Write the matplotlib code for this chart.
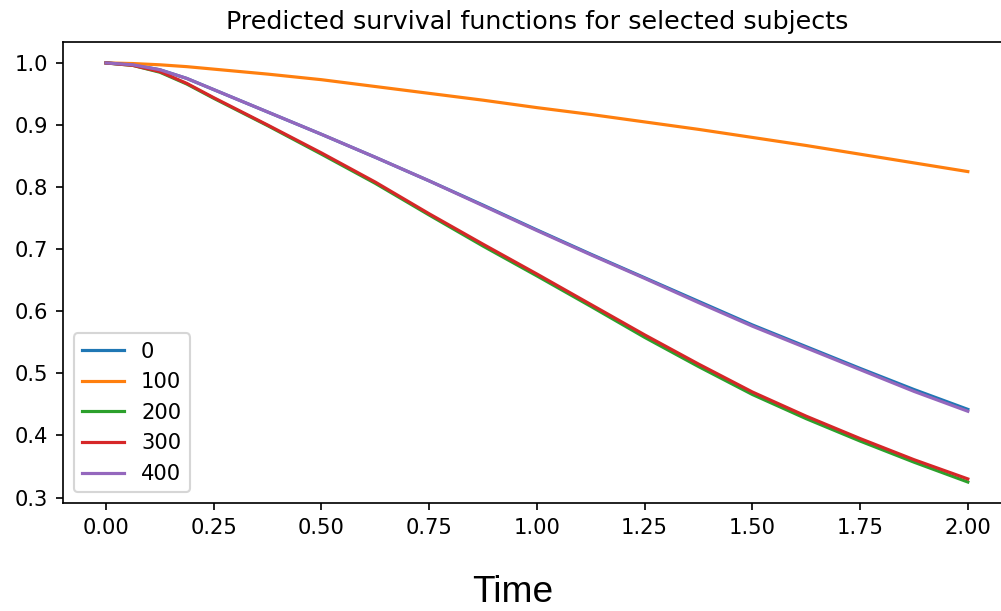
import matplotlib
matplotlib.use('Agg')
import matplotlib.pyplot as plt

# Time grid and predicted survival for each subject
times = [0.0, 0.0625, 0.125, 0.1875, 0.25, 0.375, 0.5, 0.625, 0.75, 0.875, 1.0,
         1.125, 1.25, 1.375, 1.5, 1.625, 1.75, 1.875, 2.0]

surv_0 = [1.000, 0.997, 0.989, 0.975, 0.957, 0.921, 0.885, 0.848, 0.810, 0.771,
          0.731, 0.692, 0.654, 0.616, 0.578, 0.543, 0.508, 0.474, 0.442]
surv_100 = [1.000, 0.999, 0.997, 0.994, 0.990, 0.982, 0.973, 0.962, 0.951, 0.940,
            0.928, 0.917, 0.905, 0.893, 0.880, 0.867, 0.853, 0.839, 0.825]
surv_200 = [1.000, 0.996, 0.985, 0.966, 0.943, 0.899, 0.853, 0.806, 0.755, 0.705,
            0.657, 0.608, 0.558, 0.511, 0.466, 0.427, 0.391, 0.357, 0.325]
surv_300 = [1.000, 0.996, 0.986, 0.967, 0.944, 0.900, 0.855, 0.808, 0.757, 0.708,
            0.660, 0.611, 0.562, 0.515, 0.470, 0.431, 0.395, 0.361, 0.330]
surv_400 = [1.000, 0.997, 0.989, 0.975, 0.957, 0.921, 0.885, 0.848, 0.810, 0.770,
            0.730, 0.691, 0.653, 0.614, 0.576, 0.541, 0.506, 0.471, 0.439]

subjects = ['0', '100', '200', '300', '400']
curves = [surv_0, surv_100, surv_200, surv_300, surv_400]

DPI = 152
fig = plt.figure(figsize=(1001 / DPI, 611 / DPI), dpi=DPI)
ax = fig.add_axes([0.0629, 0.1768, 0.947, 0.7545])

for name, s in zip(subjects, curves):
    ax.plot(times, s, label=name)

ax.set_title("Predicted survival functions for selected subjects")
ax.legend(loc='lower left')

# x label sits far below the axes in a different font
fig.text(0.512, 0.014, 'Time', ha='center', va='baseline',
         fontsize=17.5, family='Liberation Sans')

fig.savefig('out.png', dpi=DPI)
